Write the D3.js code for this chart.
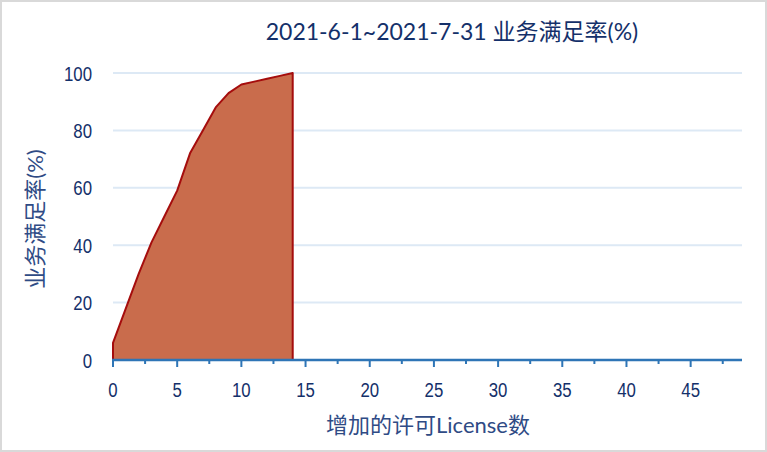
<!DOCTYPE html>
<html><head><meta charset="utf-8">
<script src="https://cdn.jsdelivr.net/npm/d3@7"></script>
<style>
html,body{margin:0;padding:0;background:#fff;}
svg{display:block;}
</style></head>
<body>
<svg id="chart" width="767" height="452"></svg>
<script>
const titleText = "2021-6-1~2021-7-31 业务满足率(%)";
const xTitle = "增加的许可License数";
const yTitle = "业务满足率(%)";
const licenses = [0,1,2,3,4,5,6,7,8,9,10,11,12,13,14];
const satisfaction = [6,18,30,41,50,59,72,80,88,93,96,97,98,99,100];
const xTicks = [0,5,10,15,20,25,30,35,40,45];
const yTicks = [0,20,40,60,80,100];

const svg = d3.select("#chart");
const W = 767, H = 452;
svg.append("rect").attr("x",1).attr("y",1).attr("width",W-2).attr("height",H-2)
  .attr("fill","#fff").attr("stroke","#d9d9d9").attr("stroke-width",2);

const x = d3.scaleLinear().domain([0,49]).range([113,742]);
const y = d3.scaleLinear().domain([0,100]).range([360,73]);
const tickFont = "'Liberation Sans',Arial,sans-serif";
const navy = "#14306a";
const sx = 0.8;

// gridlines
svg.append("g").selectAll("line").data(yTicks.filter(d=>d>0)).join("line")
  .attr("x1",x(0)).attr("x2",x(49)).attr("y1",d=>y(d)).attr("y2",d=>y(d))
  .attr("stroke","#dde9f5").attr("stroke-width",2);

// area
const data = licenses.map((d,i)=>({x:d,y:satisfaction[i]}));
const area = d3.area().x(d=>x(d.x)).y0(y(0)).y1(d=>y(d.y));
svg.append("path").datum(data).attr("d",area).attr("fill","#c96c4c");
const outline = [{x:0,y:0},...data,{x:14,y:0}];
svg.append("path").datum(outline)
  .attr("d",d3.line().x(d=>x(d.x)).y(d=>y(d.y)))
  .attr("fill","none").attr("stroke","#a50d0d").attr("stroke-width",2).attr("stroke-linejoin","round");

// x axis
const minor = d3.range(0,49,2.5);
svg.append("g").selectAll("line").data(minor).join("line")
  .attr("x1",d=>x(d)).attr("x2",d=>x(d)).attr("y1",y(0)).attr("y2",d=>y(0)+(d%5===0?7:4))
  .attr("stroke","#2e75b6").attr("stroke-width",2);
svg.append("line").attr("x1",x(0)-1).attr("x2",x(49)).attr("y1",y(0)).attr("y2",y(0))
  .attr("stroke","#2e75b6").attr("stroke-width",2.5);

svg.append("g").selectAll("text").data(xTicks).join("text")
  .attr("transform",d=>`translate(${x(d)},397) scale(${sx},1)`).attr("text-anchor","middle")
  .attr("font-family",tickFont).attr("font-size",21).attr("fill",navy).text(d=>d);
svg.append("g").selectAll("text").data(yTicks).join("text")
  .attr("transform",d=>`translate(92,${y(d)+7.5}) scale(${sx},1)`).attr("text-anchor","end")
  .attr("font-family",tickFont).attr("font-size",21).attr("fill",navy).text(d=>d);

// titles
svg.append("text").attr("x",452).attr("y",40).attr("text-anchor","middle")
  .attr("font-family","Lato,'Noto Sans CJK SC',sans-serif").attr("font-size",23).attr("fill",navy)
  .text(titleText);
svg.append("text").attr("x",428).attr("y",433).attr("text-anchor","middle")
  .attr("font-family","Lato,'Noto Sans CJK SC',sans-serif").attr("font-size",22).attr("fill","#2f4b85")
  .text(xTitle);
svg.append("text").attr("transform","translate(43,219) rotate(-90)").attr("text-anchor","middle")
  .attr("font-family","Lato,'Noto Sans CJK SC',sans-serif").attr("font-size",22).attr("fill","#2f4b85")
  .text(yTitle);
</script>
</body></html>
